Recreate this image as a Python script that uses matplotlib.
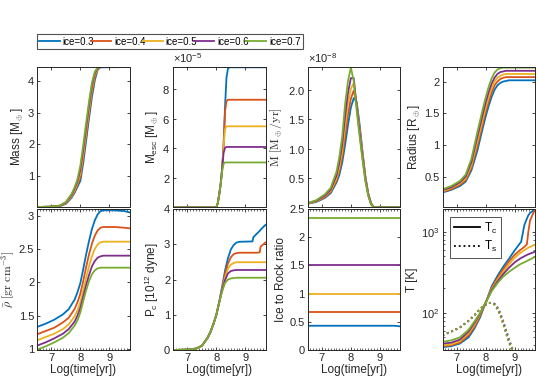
import numpy as np
import matplotlib
matplotlib.use("Agg")
import matplotlib.pyplot as plt
from matplotlib.ticker import ScalarFormatter, MultipleLocator, LogLocator, NullFormatter

plt.rcParams['font.family'] = ['Liberation Sans', 'DejaVu Sans']
plt.rcParams['mathtext.fontset'] = 'custom'
plt.rcParams['mathtext.rm'] = 'Liberation Sans'
plt.rcParams['mathtext.it'] = 'Liberation Sans:italic'
plt.rcParams['mathtext.bf'] = 'Liberation Sans:bold'

# ---- data ----
labels = ['ice=0.3', 'ice=0.4', 'ice=0.5', 'ice=0.6', 'ice=0.7']
colors = ['#0072BD', '#D95319', '#EDB120', '#7E2F8E', '#77AC30']

# Mass [M_earth]
x_mass = [6.5, 7.0, 7.3, 7.5, 7.7, 7.8, 7.9, 8.0, 8.1, 8.2, 8.3, 8.4, 8.5, 8.6, 8.7, 9.7]
mass_03 = [0.02, 0.03, 0.05, 0.12, 0.32, 0.47, 0.66, 0.85, 1.42, 2.12, 2.83, 3.50, 4.03, 4.37, 4.44, 4.45]
mass_04 = [0.02, 0.03, 0.055, 0.135, 0.35, 0.51, 0.72, 0.96, 1.56, 2.26, 2.97, 3.63, 4.12, 4.40, 4.45, 4.45]
mass_05 = [0.02, 0.03, 0.06, 0.15, 0.38, 0.55, 0.78, 1.08, 1.70, 2.40, 3.10, 3.75, 4.20, 4.42, 4.45, 4.45]
mass_06 = [0.02, 0.03, 0.065, 0.165, 0.41, 0.60, 0.84, 1.20, 1.84, 2.54, 3.23, 3.85, 4.26, 4.43, 4.45, 4.45]
mass_07 = [0.02, 0.03, 0.07, 0.18, 0.44, 0.64, 0.90, 1.33, 1.98, 2.68, 3.36, 3.95, 4.30, 4.44, 4.45, 4.45]

# escaped mass [1e-5 M_earth]
x_esc = [6.5, 7.9, 8.0, 8.05, 8.1, 8.15, 8.2, 8.25, 8.3, 8.35, 8.4, 8.45, 8.5, 9.7]
esc_03 = [0, 0, 0.02, 0.3, 0.9, 1.6, 2.6, 4.2, 6.8, 8.8, 9.4, 9.5, 9.5, 9.5]
esc_04 = [0, 0, 0.02, 0.3, 0.9, 1.6, 2.6, 4.2, 6.5, 7.2, 7.3, 7.3, 7.3, 7.3]
esc_05 = [0, 0, 0.02, 0.3, 0.9, 1.6, 2.6, 4.1, 5.3, 5.5, 5.5, 5.5, 5.5, 5.5]
esc_06 = [0, 0, 0.02, 0.3, 0.9, 1.6, 2.6, 3.7, 4.05, 4.1, 4.1, 4.1, 4.1, 4.1]
esc_07 = [0, 0, 0.02, 0.3, 0.9, 1.55, 2.45, 2.95, 3.05, 3.05, 3.05, 3.05, 3.05, 3.05]

# mass loss rate [1e-8 M_earth/yr]
x_mdot = [6.5, 6.8, 7.1, 7.3, 7.5, 7.6, 7.7, 7.8, 7.9, 8.0, 8.1, 8.2, 8.3, 8.4, 8.5, 8.6, 8.7, 8.8, 9.7]
mdot_03 = [0.06, 0.09, 0.16, 0.24, 0.42, 0.55, 0.76, 1.06, 1.40, 1.70, 1.86, 1.80, 1.42, 0.96, 0.53, 0.24, 0.07, 0, 0]
mdot_04 = [0.06, 0.10, 0.17, 0.26, 0.45, 0.61, 0.85, 1.20, 1.58, 1.85, 1.99, 1.76, 1.36, 0.93, 0.52, 0.23, 0.06, 0, 0]
mdot_05 = [0.065, 0.10, 0.19, 0.28, 0.49, 0.68, 0.95, 1.37, 1.77, 2.02, 2.12, 1.75, 1.32, 0.90, 0.50, 0.22, 0.06, 0, 0]
mdot_06 = [0.07, 0.11, 0.20, 0.30, 0.54, 0.76, 1.07, 1.55, 1.95, 2.20, 2.20, 1.72, 1.28, 0.86, 0.48, 0.21, 0.05, 0, 0]
mdot_07 = [0.07, 0.12, 0.22, 0.33, 0.60, 0.85, 1.20, 1.75, 2.15, 2.38, 2.15, 1.65, 1.22, 0.82, 0.45, 0.20, 0.05, 0, 0]

# radius [R_earth]
x_rad = [6.5, 6.8, 7.1, 7.3, 7.5, 7.7, 7.9, 8.0, 8.1, 8.2, 8.3, 8.4, 8.5, 8.6, 8.7, 8.8, 9.7]
rad_03 = [0.25, 0.29, 0.35, 0.42, 0.60, 0.90, 1.28, 1.46, 1.62, 1.76, 1.87, 1.94, 1.98, 2.00, 2.01, 2.02, 2.02]
rad_04 = [0.26, 0.30, 0.37, 0.44, 0.64, 0.97, 1.35, 1.53, 1.69, 1.83, 1.94, 2.00, 2.04, 2.06, 2.07, 2.07, 2.07]
rad_05 = [0.27, 0.32, 0.39, 0.47, 0.68, 1.04, 1.42, 1.60, 1.76, 1.90, 2.00, 2.06, 2.09, 2.11, 2.12, 2.12, 2.12]
rad_06 = [0.29, 0.33, 0.41, 0.50, 0.73, 1.12, 1.50, 1.68, 1.84, 1.97, 2.06, 2.12, 2.15, 2.16, 2.17, 2.17, 2.17]
rad_07 = [0.30, 0.35, 0.43, 0.53, 0.78, 1.19, 1.58, 1.76, 1.92, 2.05, 2.14, 2.19, 2.21, 2.22, 2.22, 2.22, 2.22]

# mean density [gr cm^-3]
x_rho = [6.5, 6.8, 7.1, 7.4, 7.6, 7.8, 7.9, 8.0, 8.1, 8.2, 8.3, 8.4, 8.5, 8.6, 8.7, 8.8, 9.2, 9.5, 9.7]
rho_03 = [1.33, 1.38, 1.44, 1.52, 1.60, 1.74, 1.85, 1.99, 2.20, 2.42, 2.62, 2.80, 2.93, 3.02, 3.07, 3.08, 3.08, 3.07, 3.05]
rho_04 = [1.22, 1.27, 1.32, 1.40, 1.47, 1.60, 1.70, 1.83, 2.02, 2.23, 2.42, 2.58, 2.70, 2.78, 2.82, 2.83, 2.83, 2.82, 2.81]
rho_05 = [1.13, 1.18, 1.23, 1.30, 1.37, 1.49, 1.58, 1.70, 1.88, 2.07, 2.24, 2.39, 2.50, 2.57, 2.60, 2.61, 2.61, 2.61, 2.61]
rho_06 = [1.05, 1.10, 1.16, 1.23, 1.30, 1.41, 1.50, 1.62, 1.79, 1.96, 2.11, 2.24, 2.32, 2.37, 2.39, 2.40, 2.40, 2.40, 2.40]
rho_07 = [0.99, 1.04, 1.10, 1.17, 1.24, 1.35, 1.43, 1.55, 1.72, 1.88, 2.02, 2.12, 2.18, 2.21, 2.22, 2.22, 2.22, 2.22, 2.22]

# central pressure [1e12 dyne]
x_pc = [6.5, 7.0, 7.3, 7.5, 7.7, 7.8, 7.9, 8.0, 8.1, 8.2, 8.3, 8.4, 8.5, 8.6, 8.7, 8.8, 9.25, 9.28, 9.4, 9.5, 9.53, 9.6, 9.7]
pc_03 = [0, 0.01, 0.04, 0.12, 0.35, 0.52, 0.74, 1.0, 1.37, 1.80, 2.25, 2.60, 2.85, 2.98, 3.05, 3.07, 3.08, 3.20, 3.30, 3.38, 3.41, 3.47, 3.55]
pc_04 = [0, 0.01, 0.04, 0.12, 0.35, 0.52, 0.74, 1.0, 1.36, 1.76, 2.15, 2.45, 2.63, 2.72, 2.75, 2.76, 2.76, 2.76, 2.76, 2.77, 2.93, 2.98, 3.05]
pc_05 = [0, 0.01, 0.04, 0.12, 0.35, 0.52, 0.74, 1.0, 1.36, 1.72, 2.05, 2.30, 2.42, 2.47, 2.49, 2.49, 2.49, 2.49, 2.49, 2.49, 2.49, 2.49, 2.49]
pc_06 = [0, 0.01, 0.04, 0.12, 0.35, 0.52, 0.74, 1.0, 1.35, 1.70, 1.98, 2.17, 2.24, 2.26, 2.27, 2.27, 2.27, 2.27, 2.27, 2.27, 2.27, 2.27, 2.27]
pc_07 = [0, 0.01, 0.04, 0.12, 0.35, 0.52, 0.74, 1.0, 1.35, 1.66, 1.90, 2.00, 2.03, 2.04, 2.05, 2.05, 2.05, 2.05, 2.05, 2.05, 2.05, 2.05, 2.05]

# ice to rock ratio
x_ice = [6.5, 9.5, 9.7]
ice_03 = [0.43, 0.43, 0.42]
ice_04 = [0.667, 0.667, 0.667]
ice_05 = [1.0, 1.0, 1.0]
ice_06 = [1.5, 1.5, 1.5]
ice_07 = [2.333, 2.333, 2.333]

# central temperature [K]
x_tc = [6.5, 6.8, 7.1, 7.4, 7.6, 7.8, 7.9, 8.0, 8.2, 8.4, 8.6, 8.8, 9.0, 9.2, 9.22, 9.33, 9.42, 9.47, 9.53, 9.65, 9.7]
tc_03 = [38, 39, 42, 50, 64, 88, 110, 135, 212, 285, 370, 465, 590, 735, 745, 1200, 1450, 1590, 1700, 1830, 1900]
tc_04 = [39, 40, 43, 53, 67, 92, 112, 135, 203, 268, 345, 430, 520, 600, 605, 650, 700, 1000, 1380, 1720, 1850]
tc_05 = [40, 41, 45, 56, 71, 96, 115, 135, 196, 255, 320, 395, 480, 550, 555, 590, 620, 635, 650, 680, 690]
tc_06 = [42, 43, 47, 59, 75, 98, 116, 135, 190, 243, 300, 360, 420, 470, 474, 498, 517, 527, 537, 558, 565]
tc_07 = [44, 46, 50, 62, 78, 100, 118, 135, 185, 232, 280, 320, 360, 400, 403, 420, 435, 445, 455, 480, 490]

# surface temperature [K]
x_ts = [6.5, 6.8, 7.1, 7.4, 7.6, 7.8, 8.0, 8.1, 8.2, 8.3, 8.4, 8.5, 8.6, 8.7, 8.8, 8.9, 9.0, 9.7]
ts_03 = [53, 59, 66, 80, 93, 112, 126, 132, 134, 130, 118, 100, 80, 62, 48, 38, 31, 20]
ts_04 = [53, 59, 66, 80, 93, 112, 127, 132, 133, 129, 116, 98, 78, 60, 46, 37, 30, 20]
ts_05 = [53, 59, 66, 80, 93, 112, 127, 133, 133, 128, 114, 96, 76, 58, 45, 36, 30, 20]
ts_06 = [53, 59, 66, 80, 93, 112, 128, 133, 133, 127, 112, 94, 74, 57, 44, 35, 29, 20]
ts_07 = [53, 59, 66, 80, 93, 112, 128, 133, 132, 125, 110, 92, 72, 55, 43, 35, 29, 20]

# ---- figure ----
W, H = 538, 390
fig = plt.figure(figsize=(W / 100, H / 100), dpi=100)

axc = '#262626'
lefts = [37, 173, 307.5, 442.5]
wid = 92.5
rows = [(67, 207), (209, 350)]
tfs = 8      # tick label size
lfs = 8.5    # axis label size

def make_ax(col, row):
    top, bot = rows[row]
    ax = fig.add_axes([lefts[col] / W, 1 - bot / H, wid / W, (bot - top) / H])
    ax.set_xlim(6.5, 9.7)
    ax.set_xticks([7, 8, 9])
    ax.tick_params(direction='in', top=True, right=True, length=2.5, width=0.6,
                   labelsize=tfs, colors=axc, pad=2)
    for s in ax.spines.values():
        s.set_color(axc)
        s.set_linewidth(0.7)
    if row == 0:
        ax.set_xticklabels([])
    else:
        ax.xaxis.set_minor_locator(MultipleLocator(0.1))
        ax.tick_params(which='minor', direction='in', top=True, length=1.2, width=0.5, colors=axc)
        ax.set_xlabel('Log(time[yr])', fontsize=lfs, color=axc, labelpad=1)
    return ax

lw = 1.3

def draw(ax, x, series, scale=1.0, ls='-'):
    for y, c, lab in zip(series, colors, labels):
        ax.plot(x, np.array(y) * scale, color=c, lw=lw, ls=ls, label=lab)

def sci(ax):
    fmt = ScalarFormatter(useMathText=True)
    fmt.set_powerlimits((0, 0))
    ax.yaxis.set_major_formatter(fmt)
    ax.yaxis.get_offset_text().set_fontsize(tfs)
    ax.yaxis.get_offset_text().set_color(axc)

# Mass
ax = make_ax(0, 0)
draw(ax, x_mass, [mass_03, mass_04, mass_05, mass_06, mass_07])
ax.set_ylim(0.02, 4.45)
ax.set_yticks([1, 2, 3, 4])
ax.set_ylabel(r'Mass [M$_\oplus$]', fontsize=lfs, color=axc, labelpad=2)
handles, _ = ax.get_legend_handles_labels()

# M_esc
ax = make_ax(1, 0)
draw(ax, x_esc, [esc_03, esc_04, esc_05, esc_06, esc_07], scale=1e-5)
ax.set_ylim(0.03e-5, 9.52e-5)
ax.set_yticks([2e-5, 4e-5, 6e-5, 8e-5])
sci(ax)
ax.set_ylabel(r'M$_{\rm esc}$ [M$_\oplus$]', fontsize=lfs, color=axc, labelpad=2)

# M dot
ax = make_ax(2, 0)
draw(ax, x_mdot, [mdot_03, mdot_04, mdot_05, mdot_06, mdot_07], scale=1e-8)
ax.set_ylim(0.005e-8, 2.39e-8)
ax.set_yticks([0.5e-8, 1e-8, 1.5e-8, 2e-8])
sci(ax)
ax.set_ylabel(r'$\dot{\mathrm{M}}\ [\mathrm{M}_\oplus/\mathrm{yr}]$', fontsize=lfs, color=axc,
              labelpad=2, math_fontfamily='cm')

# Radius
ax = make_ax(3, 0)
draw(ax, x_rad, [rad_03, rad_04, rad_05, rad_06, rad_07])
ax.set_ylim(0.02, 2.23)
ax.set_yticks([0.5, 1, 1.5, 2])
ax.set_yticklabels(['0.5', '1', '1.5', '2'])
ax.set_ylabel(r'Radius [R$_\oplus$]', fontsize=lfs, color=axc, labelpad=2)

# mean density
ax = make_ax(0, 1)
draw(ax, x_rho, [rho_03, rho_04, rho_05, rho_06, rho_07])
ax.set_ylim(0.985, 3.1)
ax.set_yticks([1, 1.5, 2, 2.5, 3])
ax.set_yticklabels(['1', '1.5', '2', '2.5', '3'])
ax.set_ylabel(r'$\bar{\rho}\ [\mathrm{gr\ cm}^{-3}]$', fontsize=lfs, color=axc,
              labelpad=1, math_fontfamily='cm')

# central pressure
ax = make_ax(1, 1)
draw(ax, x_pc, [pc_03, pc_04, pc_05, pc_06, pc_07])
ax.set_ylim(0, 4)
ax.set_yticks([0, 1, 2, 3, 4])
ax.set_ylabel(r'P$_{\rm c}$ [10$^{12}$ dyne]', fontsize=lfs, color=axc, labelpad=2)

# ice to rock
ax = make_ax(2, 1)
draw(ax, x_ice, [ice_03, ice_04, ice_05, ice_06, ice_07])
ax.set_ylim(0, 2.5)
ax.set_yticks([0, 0.5, 1, 1.5, 2, 2.5])
ax.set_yticklabels(['0', '0.5', '1', '1.5', '2', '2.5'])
ax.set_ylabel('Ice to Rock ratio', fontsize=lfs, color=axc, labelpad=2)

# temperatures
ax = make_ax(3, 1)
ax.set_yscale('log')
draw(ax, x_ts, [ts_03, ts_04, ts_05, ts_06, ts_07], ls=':')
draw(ax, x_tc, [tc_03, tc_04, tc_05, tc_06, tc_07])
ax.set_ylim(35, 1900)
ax.yaxis.set_major_locator(LogLocator(base=10, numticks=5))
ax.yaxis.set_minor_locator(LogLocator(base=10, subs=np.arange(2, 10), numticks=20))
ax.yaxis.set_minor_formatter(NullFormatter())
ax.tick_params(axis='y', which='minor', direction='in', right=True, length=1.2, width=0.5, colors=axc)
ax.set_ylabel('T [K]', fontsize=lfs, color=axc, labelpad=2)
hc, = ax.plot([], [], color='black', lw=1.3, ls='-')
hs, = ax.plot([], [], color='black', lw=1.3, ls=':')
leg = ax.legend([hc, hs], [r'T$_{\rm c}$', r'T$_{\rm s}$'], loc='upper left',
                fontsize=8.5, handlelength=2.2, handletextpad=0.4, borderpad=0.3,
                labelspacing=0.3, fancybox=False, edgecolor=axc,
                bbox_to_anchor=(0.02, 0.985))
leg.get_frame().set_linewidth(0.7)

# shared legend on top
lg = fig.legend(handles, labels, ncol=5, loc='lower left',
                bbox_to_anchor=(37 / W, 1 - 49 / H, (303 - 37) / W, 13 / H), mode='expand',
                fontsize=7, handlelength=2.1, handletextpad=0.3, columnspacing=0.5,
                borderpad=0.25, borderaxespad=0, fancybox=False, edgecolor=axc)
lg.get_frame().set_linewidth(0.8)

fig.savefig('out.png', dpi=100)
